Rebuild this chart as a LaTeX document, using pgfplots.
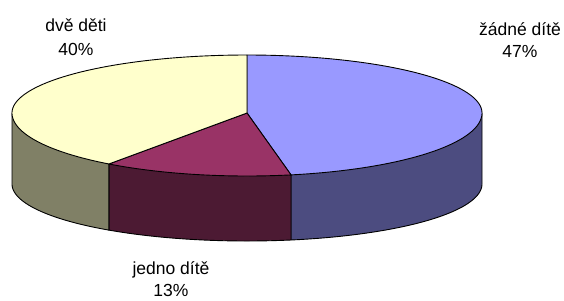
\documentclass[border=0pt]{standalone}
\usepackage{pgfplots}
\pgfplotsset{compat=1.18}
\usepackage{pgfplotstable}
\usepackage{fontspec}
\setmainfont{Liberation Sans}
\definecolor{zTop}{HTML}{9999FF}\definecolor{zSide}{HTML}{4C4C80}
\definecolor{jTop}{HTML}{993366}\definecolor{jSide}{HTML}{4C1A33}
\definecolor{dTop}{HTML}{FFFFCC}\definecolor{dSide}{HTML}{808066}
\pgfplotstableread{
label value
zadne 47
jedno 13
dve 40
}\piedata
\begin{document}
\begin{tikzpicture}
\pgfplotstablegetelem{0}{value}\of\piedata \edef\vA{\pgfplotsretval}
\pgfplotstablegetelem{1}{value}\of\piedata \edef\vB{\pgfplotsretval}
\pgfplotstablegetelem{2}{value}\of\piedata \edef\vC{\pgfplotsretval}
\pgfmathsetmacro\aA{3.6*\vA}
\pgfmathsetmacro\aB{\aA+3.6*\vB}
\pgfmathsetmacro\aC{\aB+3.6*\vC}
% top edge points (front half radius 63)
\pgfmathsetmacro\xA{247+235*sin(\aA)}\pgfmathsetmacro\yA{113-63*cos(\aA)}
\pgfmathsetmacro\xB{247+235*sin(\aB)}\pgfmathsetmacro\yB{113-63*cos(\aB)}
\begin{axis}[x=1bp,y=1bp,y dir=reverse,xmin=0,xmax=564,ymin=0,ymax=300,
  hide axis,clip=false,
  every axis plot/.append style={line width=0.9bp,draw=black,line join=round}]
\path (axis cs:0,0) rectangle (axis cs:564,300);
% side walls
\addplot[fill=zSide,domain=90:\aA,samples=80,variable=\t]
  ({247+235*sin(\t)},{184-57*cos(\t)}) -- (axis cs:\xA,\yA) -- (axis cs:482,113) -- cycle;
\addplot[fill=jSide,domain=\aA:\aB,samples=50,variable=\t]
  ({247+235*sin(\t)},{184-57*cos(\t)}) -- (axis cs:\xB,\yB) -- (axis cs:\xA,\yA) -- cycle;
\addplot[fill=dSide,domain=\aB:270,samples=50,variable=\t]
  ({247+235*sin(\t)},{184-57*cos(\t)}) -- (axis cs:12,113) -- (axis cs:\xB,\yB) -- cycle;
% top slices
\addplot[fill=zTop,domain=0:\aA,samples=150,variable=\t]
  ({247+235*sin(\t)},{113-58*max(cos(\t),0)-63*min(cos(\t),0)}) -- (axis cs:247,113) -- cycle;
\addplot[fill=jTop,domain=\aA:\aB,samples=50,variable=\t]
  ({247+235*sin(\t)},{113-58*max(cos(\t),0)-63*min(cos(\t),0)}) -- (axis cs:247,113) -- cycle;
\addplot[fill=dTop,domain=\aB:\aC,samples=150,variable=\t]
  ({247+235*sin(\t)},{113-58*max(cos(\t),0)-63*min(cos(\t),0)}) -- (axis cs:247,113) -- cycle;
% labels
\tikzset{lab/.style={anchor=base,inner sep=0pt,font=\fontsize{17.5bp}{21bp}\selectfont}}
\node[lab] at (axis cs:76,31) {dvě děti};
\node[lab] at (axis cs:76,55) {40\%};
\node[lab] at (axis cs:520,35) {žádné dítě};
\node[lab] at (axis cs:520,57) {47\%};
\node[lab] at (axis cs:171,274) {jedno dítě};
\node[lab] at (axis cs:171,296) {13\%};
\end{axis}
\end{tikzpicture}
\end{document}
